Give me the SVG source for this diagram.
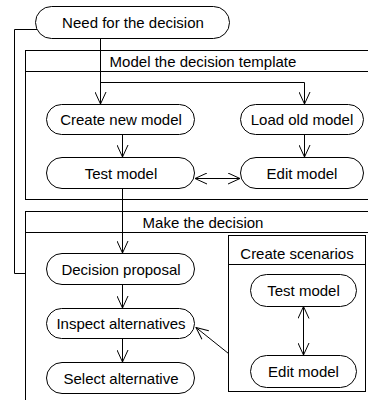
<svg xmlns="http://www.w3.org/2000/svg" width="368" height="400" viewBox="0 0 368 400">
<style>
.n{fill:#fff;stroke:#000;stroke-width:1}
.f{fill:none;stroke:#000;stroke-width:1}
.c{fill:none;stroke:#000;stroke-width:1}
text{font-family:"Liberation Sans",Arial,sans-serif;font-size:15px;fill:#000;text-anchor:middle}
</style>
<defs>
<marker id="a" viewBox="0 0 14 12" refX="13" refY="6" markerWidth="14" markerHeight="12" markerUnits="userSpaceOnUse" orient="auto-start-reverse">
<path d="M1,0.5 L13,6 L1,11.5" fill="none" stroke="#000" stroke-width="1"/>
</marker>
</defs>
<rect width="368" height="400" fill="#fff"/>
<g id="frame-model">
<rect class="f" x="25.5" y="50.5" width="360" height="149"/>
<line class="f" x1="25.5" y1="71.5" x2="385.5" y2="71.5"/>
<text x="203" y="66.5">Model the decision template</text>
</g>
<g id="frame-make">
<rect class="f" x="25.5" y="211.5" width="360" height="210"/>
<line class="f" x1="25.5" y1="232.5" x2="385.5" y2="232.5"/>
<text x="203" y="227.5">Make the decision</text>
</g>
<g id="frame-scenarios">
<rect class="f" x="228.5" y="235.5" width="137" height="156"/>
<line class="f" x1="228.5" y1="264.5" x2="365.5" y2="264.5"/>
<text x="297" y="258.5">Create scenarios</text>
</g>
<g id="connectors">
<polyline class="c" points="37,29.5 14.5,29.5 14.5,273.5 25.5,273.5"/>
<line class="c" x1="100.5" y1="38.5" x2="100.5" y2="104" marker-end="url(#a)"/>
<polyline class="c" points="100.5,82.5 304.5,82.5 304.5,104" marker-end="url(#a)"/>
<line class="c" x1="122.5" y1="134.5" x2="122.5" y2="157" marker-end="url(#a)"/>
<line class="c" x1="304.5" y1="134.5" x2="304.5" y2="157" marker-end="url(#a)"/>
<line class="c" x1="195" y1="178.5" x2="240" y2="178.5" marker-start="url(#a)" marker-end="url(#a)"/>
<line class="c" x1="122.5" y1="188.5" x2="122.5" y2="253" marker-end="url(#a)"/>
<line class="c" x1="122.5" y1="284.5" x2="122.5" y2="308" marker-end="url(#a)"/>
<line class="c" x1="122.5" y1="338.5" x2="122.5" y2="362" marker-end="url(#a)"/>
<line class="c" x1="303.5" y1="306.5" x2="303.5" y2="355" marker-start="url(#a)" marker-end="url(#a)"/>
<line class="c" x1="228.5" y1="353.5" x2="196" y2="327.5" marker-end="url(#a)"/>
</g>
<g id="need"><rect class="n" x="35.5" y="6.5" width="194" height="32" rx="16"/><text x="133" y="28">Need for the decision</text></g>
<g id="create-new"><rect class="n" x="46.5" y="104.5" width="148" height="30" rx="15"/><text x="121" y="125">Create new model</text></g>
<g id="load-old"><rect class="n" x="240.5" y="104.5" width="123" height="30" rx="15"/><text x="302" y="125">Load old model</text></g>
<g id="test-model"><rect class="n" x="46.5" y="157.5" width="148" height="31" rx="15.5"/><text x="121" y="178.5">Test model</text></g>
<g id="edit-model"><rect class="n" x="240.5" y="157.5" width="123" height="31" rx="15.5"/><text x="302" y="178.5">Edit model</text></g>
<g id="decision-proposal"><rect class="n" x="46.5" y="253.5" width="148" height="31" rx="15.5"/><text x="121" y="274.5">Decision proposal</text></g>
<g id="inspect"><rect class="n" x="46.5" y="308.5" width="148" height="30" rx="15"/><text x="121" y="329">Inspect alternatives</text></g>
<g id="select"><rect class="n" x="46.5" y="362.5" width="148" height="31" rx="15.5"/><text x="121" y="383.5">Select alternative</text></g>
<g id="sc-test"><rect class="n" x="250.5" y="274.5" width="106" height="32" rx="16"/><text x="303.5" y="296">Test model</text></g>
<g id="sc-edit"><rect class="n" x="250.5" y="355.5" width="106" height="32" rx="16"/><text x="303.5" y="377">Edit model</text></g>
</svg>
